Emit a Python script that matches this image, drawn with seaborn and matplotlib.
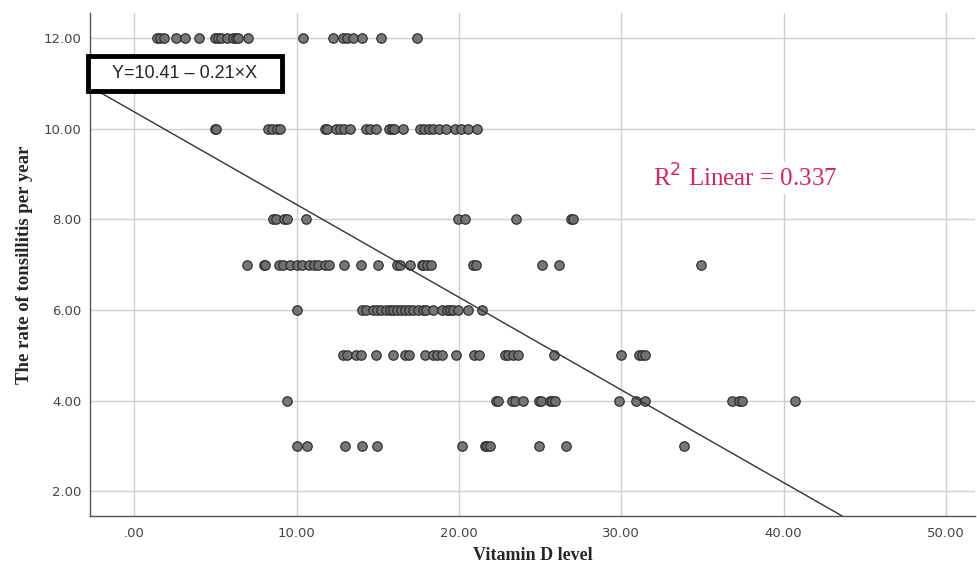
import numpy as np
import pandas as pd
import matplotlib
matplotlib.use("Agg")
import matplotlib.pyplot as plt
from matplotlib.patches import Rectangle
from matplotlib.ticker import FuncFormatter
import seaborn as sns

sns.set_theme(style="whitegrid")

# vitamin D values, one list per tonsillitis rate
vit_12 = [1.38, 1.58, 1.83, 2.57, 3.12, 4.0, 4.97, 5.13, 5.32, 5.69, 6.06, 6.26, 6.40, 7.02,
          10.37, 12.22, 12.87, 13.08, 13.49, 14.0, 15.17, 17.39]
vit_10 = [5.0, 5.05, 8.25, 8.5, 8.8, 9.0, 11.75, 11.9, 12.4, 12.7, 12.9, 13.3, 14.3, 14.55,
          14.9, 15.7, 15.85, 16.0, 16.55, 17.6, 17.85, 18.15, 18.4, 18.8, 19.2, 19.75, 20.15,
          20.55, 21.1]
vit_8 = [8.57, 8.73, 9.22, 9.38, 10.57, 19.95, 20.36, 23.5, 26.93, 27.03]
vit_7 = [6.96, 7.99, 8.05, 8.93, 9.18, 9.59, 10.04, 10.31, 10.78, 11.07, 11.33, 11.74, 12.01,
         12.91, 13.94, 15.02, 16.16, 16.36, 16.98, 17.7, 17.8, 18.04, 18.25, 20.87, 21.08,
         25.09, 26.17, 34.9]
vit_6 = [10.0, 14.0, 14.3, 14.7, 14.95, 15.2, 15.5, 15.75, 15.95, 16.2, 16.45, 16.65, 16.9,
         17.2, 17.5, 17.8, 18.0, 18.4, 18.95, 19.25, 19.45, 19.65, 19.95, 20.55, 21.45]
vit_5 = [12.87, 13.08, 13.69, 13.94, 14.88, 15.95, 16.67, 16.93, 17.9, 18.41, 18.62, 18.93,
         19.85, 20.92, 21.24, 22.83, 23.03, 23.34, 23.65, 25.86, 29.97, 31.1, 31.3, 31.45]
vit_4 = [9.38, 22.31, 22.41, 23.24, 23.44, 23.92, 24.94, 25.08, 25.6, 25.76, 25.9, 29.87,
         30.89, 31.45, 36.85, 37.25, 37.45, 40.68]
vit_3 = [10.0, 10.62, 12.97, 14.0, 14.96, 20.16, 21.6, 21.74, 21.9, 24.94, 26.62, 33.87]

rates = [12, 10, 8, 7, 6, 5, 4, 3]
rows = [vit_12, vit_10, vit_8, vit_7, vit_6, vit_5, vit_4, vit_3]

# fitted line as drawn, and the labels shown on the chart
intercept = 10.37
slope = -0.2045
equation = "Y=10.41 \u2013 0.21\u00d7X"
r2 = 0.337

df = pd.DataFrame({
    "vitd": np.concatenate(rows),
    "rate": np.concatenate([[r] * len(v) for r, v in zip(rates, rows)]),
})

fig = plt.figure(figsize=(9.78, 5.71), dpi=100)
ax = fig.add_axes([0.092, 0.097, 0.905, 0.88])

sns.scatterplot(data=df, x="vitd", y="rate", ax=ax, s=46, color="#707070",
                edgecolor="#2a2a2a", linewidth=0.9, alpha=0.95, zorder=3)

xmin, xmax = -2.73, 51.8
ax.set_xlim(xmin, xmax)
ax.set_ylim(1.46, 12.55)

xs = np.array([xmin, xmax])
ax.plot(xs, intercept + slope * xs, color="#333333", lw=1.0, zorder=4)

ax.set_xticks(np.arange(0, 51, 10))
ax.set_yticks(np.arange(2, 13, 2))
fmt = FuncFormatter(lambda v, p: ".00" if v == 0 else f"{v:.2f}")
ax.xaxis.set_major_formatter(fmt)
ax.yaxis.set_major_formatter(fmt)
ax.tick_params(axis="both", labelsize=9.5, colors="#444444", length=0)
ax.tick_params(axis="x", pad=8)
ax.tick_params(axis="y", pad=6)

ax.grid(True, color="#cfcfcf", lw=1.0)
for side in ["top", "right"]:
    ax.spines[side].set_visible(False)
for side in ["left", "bottom"]:
    ax.spines[side].set_color("#555555")
    ax.spines[side].set_linewidth(1.0)

serif = ["Liberation Serif", "DejaVu Serif"]
ax.set_xlabel("Vitamin D level", fontsize=13, fontweight="bold", family=serif, labelpad=5)
ax.set_ylabel("The rate of tonsillitis per year", fontsize=13.5, fontweight="bold",
              family=serif, labelpad=8)

# equation box
ax.add_patch(Rectangle((-0.002, 0.845), 0.219, 0.07, transform=ax.transAxes,
                       fc="white", ec="black", lw=3.5, zorder=6, clip_on=False))
ax.text(0.107, 0.88, equation, transform=ax.transAxes, fontsize=13,
        family=["Liberation Sans", "DejaVu Sans"], va="center", ha="center", zorder=7)

ax.text(0.74, 0.672, f"R$^2$ Linear = {r2}", transform=ax.transAxes, fontsize=18,
        family=serif, color="#d9245a", ha="center", va="center", zorder=6,
        bbox=dict(fc="white", ec="none", pad=2))

fig.savefig("out.png", dpi=100)
